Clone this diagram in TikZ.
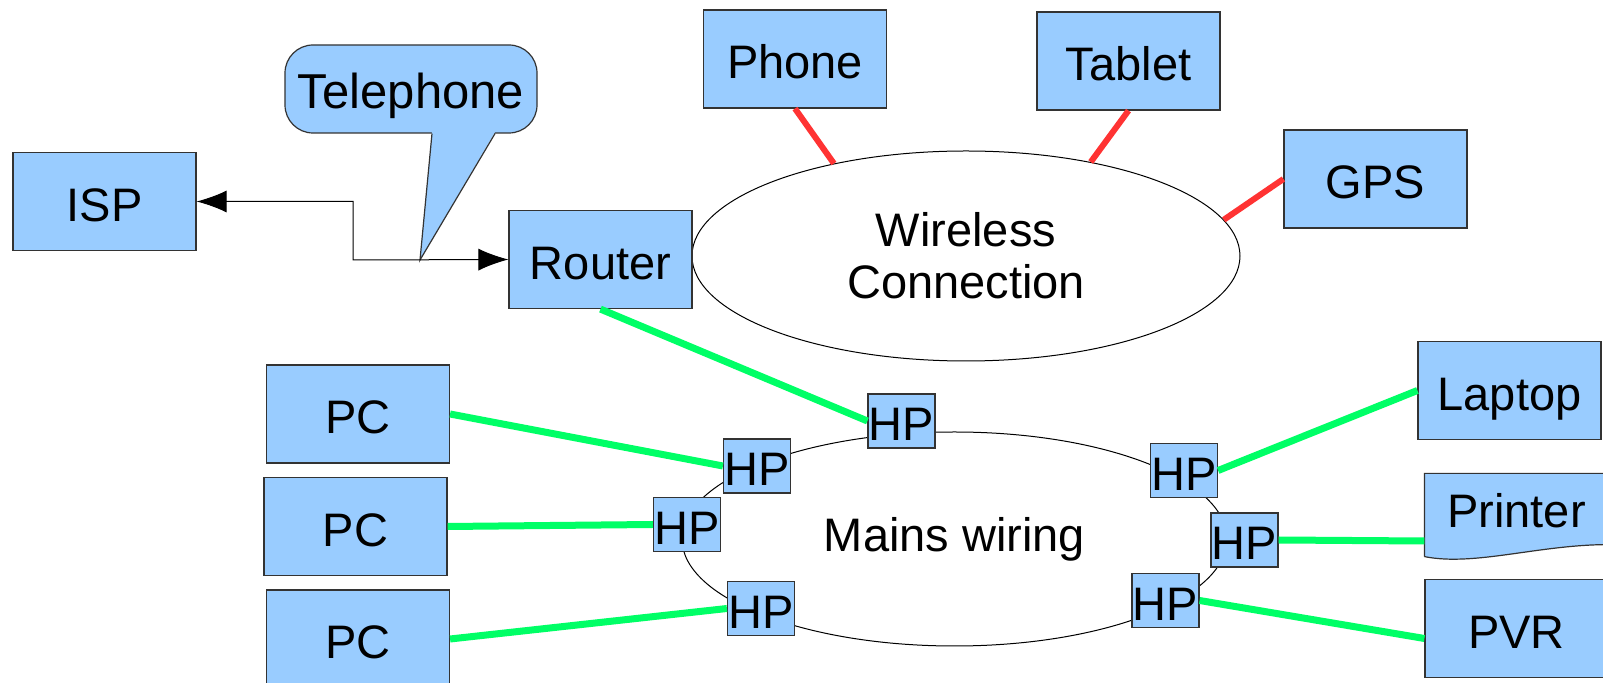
\documentclass[tikz,border=0pt]{standalone}
\usepackage{fontspec}
\setmainfont{Liberation Sans}
\usetikzlibrary{shapes.geometric, arrows.meta, calc, backgrounds}
\definecolor{boxblue}{HTML}{99CCFF}
\definecolor{boxline}{HTML}{333333}
\definecolor{wiregreen}{HTML}{00FF66}
\definecolor{radiored}{HTML}{FF3333}

\begin{document}
\begin{tikzpicture}[x=0.5pt, y=-0.5pt,
  every node/.style={font=\fontsize{23.5}{26}\selectfont},
  device/.style={draw=boxline, fill=boxblue, line width=0.6pt, minimum width=91.5pt, minimum height=49pt, inner sep=0pt, text height=20pt, text depth=0pt},
  plug/.style={draw=boxline, fill=boxblue, line width=0.6pt, minimum width=33.5pt, minimum height=27pt, inner sep=0pt, text height=20pt, text depth=0pt},
  network/.style={ellipse, draw, line width=0.5pt, inner sep=0pt, align=center},
  wired/.style={wiregreen, line width=3.5pt},
  radio/.style={radiored, line width=3pt},
  >={Latex[length=15pt, width=11pt]}]
\useasboundingbox (0,0) rectangle (1603,683);
\node[network, minimum width=274pt, minimum height=105pt] (wifi) at (966,256) {Wireless\\Connection};
\node[network, minimum width=272.5pt, minimum height=107pt] (mains) at (954.5,539) {Mains wiring};
\node[device] (isp) at (104.5,201.5) {ISP};
\node[device] (router) at (600.5,259.5) {Router};
\node[device, minimum width=126pt, minimum height=44pt, rounded corners=14pt, font=\fontsize{24.5}{27}\selectfont] (tel) at (411,89) {Telephone};
\coordinate (split) at (353,260);
\coordinate (teltip) at (420,260);
\fill[boxblue] ($(tel.south)+(21,-1.5)$) -- (teltip) -- ($(tel.south)+(84,-1.5)$) -- cycle;
\draw[boxline, line width=0.6pt] ($(tel.south)+(21,0)$) -- (teltip) -- ($(tel.south)+(84,0)$);
\draw[<->, line width=0.5pt] (isp.east) -| (split) -- (router.west);
\node[device] (phone) at (795,59) {Phone};
\node[device] (tablet) at (1128.5,61) {Tablet};
\node[device] (gps) at (1375.5,179) {GPS};
\node[device] (pc_1) at (358,414) {PC};
\node[device] (pc_2) at (355.5,526.5) {PC};
\node[device] (pc_3) at (358,639) {PC};
\node[device] (laptop) at (1509.5,390.5) {Laptop};
\node[device, draw=none, fill=none, minimum height=41pt, text depth=7pt] (printer) at (1516.5,515) {Printer};
\begin{scope}[on background layer]
\filldraw[draw=boxline, fill=boxblue, line width=0.6pt] (printer.south west) -- (printer.north west) -- (printer.north east) -- ([yshift=6pt]printer.south east) .. controls +(-70,0) and +(50,10) .. (printer.south west);
\end{scope}
\node[device] (pvr) at (1516.5,628.5) {PVR};
\node[plug] (hp_r) at (901.5,421) {HP};
\node[plug] (hp_1) at (757,466) {HP};
\node[plug] (hp_2) at (687,524.5) {HP};
\node[plug] (hp_3) at (761,608.5) {HP};
\node[plug] (hp_4) at (1184,470.5) {HP};
\node[plug] (hp_5) at (1244.5,540) {HP};
\node[plug] (hp_6) at (1165.5,600.5) {HP};
\draw[wired] (router.south) -- (hp_r.west);
\draw[wired] (pc_1.east) -- (hp_1.west);
\draw[wired] (pc_2.east) -- (hp_2.west);
\draw[wired] (pc_3.east) -- (hp_3.west);
\draw[wired] (laptop.west) -- (hp_4.east);
\draw[wired] ([yshift=-13pt]printer.west) -- (hp_5.east);
\draw[wired] ([yshift=-5pt]pvr.west) -- (hp_6.east);
\draw[radio] (phone.south) -- (wifi.145);
\draw[radio] (tablet.south) -- (wifi.37);
\draw[radio] (gps.west) -- (wifi.8);
\end{tikzpicture}
\end{document}
